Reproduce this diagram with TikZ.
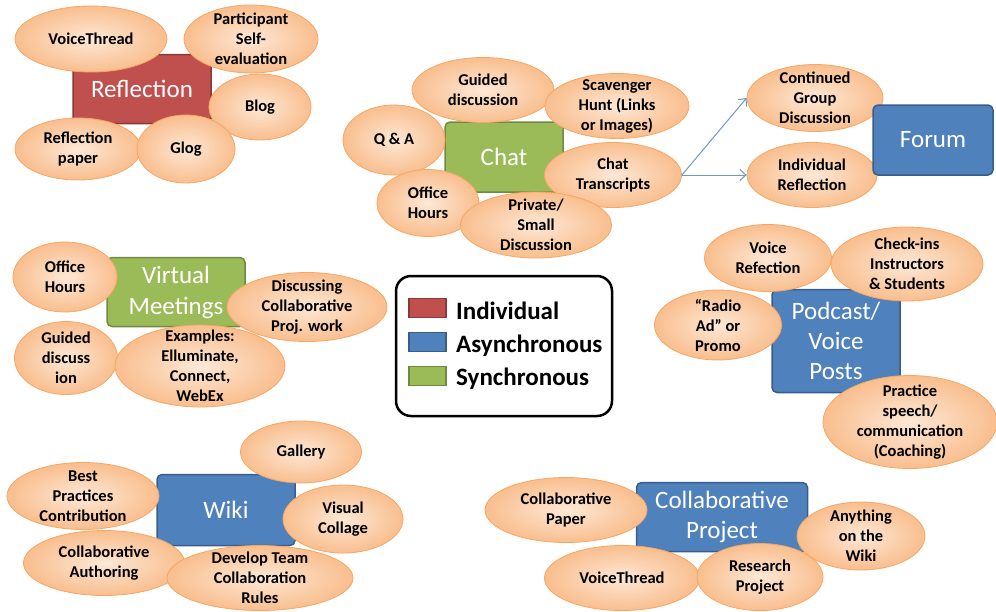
\documentclass[tikz,border=0pt]{standalone}
\usepackage{fontspec}
\setmainfont{Carlito}
\usepackage{tikz}
\usetikzlibrary{shapes,arrows,arrows.meta,shadows}

\definecolor{indred}{HTML}{C0504D}
\definecolor{indredd}{HTML}{8C3836}
\definecolor{asyblue}{HTML}{4F81BD}
\definecolor{asyblued}{HTML}{385D8A}
\definecolor{syngreen}{HTML}{9BBB59}
\definecolor{syngreend}{HTML}{71893F}
\definecolor{peachin}{HTML}{FDE8D6}
\definecolor{peachout}{HTML}{F9BE8E}
\definecolor{peachline}{HTML}{F5A764}
\definecolor{arrowblue}{HTML}{6A98D0}

\begin{document}
\begin{tikzpicture}[x=1pt,y=-1pt,
  topic/.style={rectangle, rounded corners=5pt, line width=1.5pt, text=white, align=center, inner sep=1pt, font=\fontsize{25}{30}\selectfont},
  indiv/.style={topic, fill=indred, draw=indredd},
  asyn/.style={topic, fill=asyblue, draw=asyblued},
  sync/.style={topic, fill=syngreen, draw=syngreend},
  idea/.style={ellipse, draw=peachline, line width=0.8pt, inner color=peachin, outer color=peachout, inner sep=0pt},
  ideatext/.style={align=center, inner sep=0pt, font=\bfseries\fontsize{16.5}{20}\selectfont},
  swatch/.style={rectangle, minimum width=37pt, minimum height=19pt, line width=1.5pt, inner sep=0pt},
  legtext/.style={anchor=base west, inner sep=0pt, font=\bfseries\fontsize{25}{30}\selectfont},
  link/.style={-{Straight Barb[length=6pt,width=11pt]}, arrowblue, line width=1pt}]
\useasboundingbox (0,0) rectangle (996,611);

\node[indiv, minimum width=138pt, minimum height=69pt] (refl) at (142,89) {Reflection};
\foreach \n/\x/\y/\ww/\hh/\txt in {
	rvt/91/39/152/66/{VoiceThread},
	rself/251/39/134/68/{Participant\\Self-\\evaluation},
	rblog/260/107/102/66/{Blog},
	rpaper/78/149/126/62/{Reflection\\paper},
	rglog/186/149/98/68/{Glog}} {
	\node[idea, minimum width=\ww pt, minimum height=\hh pt] (\n) at (\x,\y) {};
	\node[ideatext] (\n-t) at (\n) {\txt};
}

\node[sync, minimum width=118pt, minimum height=70pt] (chat) at (504,157) {Chat};
\foreach \n/\x/\y/\ww/\hh/\txt in {
	cguide/483/90/142/65/{Guided\\discussion},
	chunt/617/106/144/65/{Scavenger\\Hunt (Links\\or Images)},
	cqa/394/140/102/70/{Q \& A},
	ctrans/613/175/137/65/{Chat\\Transcripts},
	coffice/428/203/102/67/{Office\\Hours},
	cpriv/536/225/151/66/{Private/\\Small\\Discussion},
	fcont/815/98/136/67/{Continued\\Group\\Discussion},
	find/812/175/130/65/{Individual\\Reflection}} {
	\node[idea, minimum width=\ww pt, minimum height=\hh pt] (\n) at (\x,\y) {};
	\node[ideatext] (\n-t) at (\n) {\txt};
}
\node[asyn, minimum width=120pt, minimum height=70pt] (forum) at (933,140) {Forum};
\draw[link] (ctrans.east) -- (fcont.west);
\draw[link] (ctrans.east) -- (find.west);

\node[sync, minimum width=138pt, minimum height=69pt, font=\fontsize{25}{31}\selectfont] (vm) at (176,292) {Virtual\\Meetings};
\foreach \n/\x/\y/\ww/\hh/\txt in {
	voffice/65/277/104/70/{Office\\Hours},
	vguide/66/358/103/73/{Guided\\discuss\\ion},
	vex/200/366/170/82/{Examples:\\Elluminate,\\Connect,\\WebEx},
	vdisc/307/307/160/69/{Discussing\\Collaborative\\Proj. work}} {
	\node[idea, minimum width=\ww pt, minimum height=\hh pt] (\n) at (\x,\y) {};
	\node[ideatext] (\n-t) at (\n) {\txt};
}

\node[draw, line width=2.5pt, rounded corners=15pt, minimum width=216pt, minimum height=140pt] (legend) at (504,346) {};
\node[swatch, fill=indred, draw=indredd] (swind) at (427.5,308) {};
\node[swatch, fill=asyblue, draw=asyblued] (swasy) at (427.5,342) {};
\node[swatch, fill=syngreen, draw=syngreend] (swsyn) at (427.5,376) {};
\node[legtext] (lind) at (456,319) {Individual};
\node[legtext] (lasy) at (456,352) {Asynchronous};
\node[legtext] (lsyn) at (456,385) {Synchronous};

\node[asyn, minimum width=128pt, minimum height=103pt] (pod) at (836,341) {Podcast/\\Voice\\Posts};
\foreach \n/\x/\y/\ww/\hh/\txt in {
	pvoice/768/258/127/67/{Voice\\Refection},
	pcheck/907/264/152/74/{Check-ins\\Instructors\\\& Students},
	pradio/718/325/127/70/{“Radio\\Ad” or\\Promo},
	ppract/910/422/174/93/{Practice\\speech/\\communication\\(Coaching)}} {
	\node[idea, minimum width=\ww pt, minimum height=\hh pt] (\n) at (\x,\y) {};
	\node[ideatext] (\n-t) at (\n) {\txt};
}

\node[asyn, minimum width=138pt, minimum height=71pt] (wiki) at (226,510) {Wiki};
\foreach \n/\x/\y/\ww/\hh/\txt in {
	wgal/301/452/121/62/{Gallery},
	wbest/83/496/152/67/{Best\\Practices\\Contribution},
	wvis/343/519/120/68/{Visual\\Collage},
	wauth/104/563/161/65/{Collaborative\\Authoring},
	wrules/260/578/186/65/{Develop Team\\Collaboration\\Rules}} {
	\node[idea, minimum width=\ww pt, minimum height=\hh pt] (\n) at (\x,\y) {};
	\node[ideatext] (\n-t) at (\n) {\txt};
}

\node[asyn, minimum width=171pt, minimum height=69pt] (colp) at (722,517) {Collaborative\\Project};
\foreach \n/\x/\y/\ww/\hh/\txt in {
	cppaper/566/510/162/65/{Collaborative\\Paper},
	cpvt/622/578/155/65/{VoiceThread},
	cpres/760/577/126/67/{Research\\Project},
	cpwiki/861/536/128/68/{Anything\\on the\\Wiki}} {
	\node[idea, minimum width=\ww pt, minimum height=\hh pt] (\n) at (\x,\y) {};
	\node[ideatext] (\n-t) at (\n) {\txt};
}
\end{tikzpicture}
\end{document}
